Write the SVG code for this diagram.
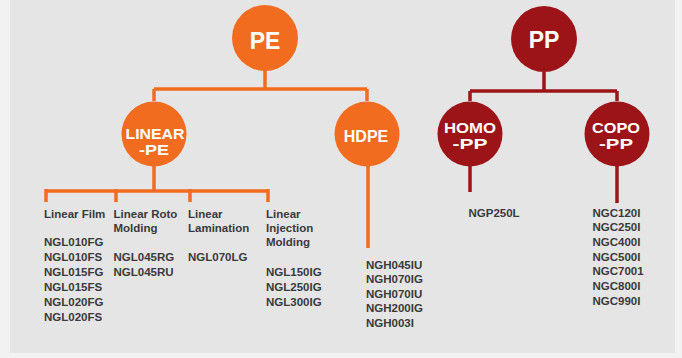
<svg xmlns="http://www.w3.org/2000/svg" width="682" height="358" viewBox="0 0 682 358">
<style>
.pe{fill:#f26c1f}
.pp{fill:#9c1418}
.lo{stroke:#f26c1f;fill:none;stroke-width:3.5}
.lr{stroke:#9c1418;fill:none;stroke-width:3.5}
.ct{font-family:"Liberation Sans",Arial,sans-serif;font-weight:bold;fill:#ffffff;text-anchor:middle}
.big{font-size:23px}
.mid{font-size:16px}
.two{font-size:14.5px}
.t{font-family:"Liberation Sans",Arial,sans-serif;font-weight:bold;font-size:11.5px;fill:#3a3a3a}
</style>
<rect x="0" y="0" width="682" height="358" fill="#f2f2f2"/>
<rect x="10" y="0" width="665" height="353" fill="#e5e5e5"/>
<g id="connectors">
<path class="lo" d="M265 70 V89 M154 89 H367 M154 89 V101 M367 89 V101"/>
<path class="lo" d="M154 166 V191 M46 191 H268 M46 189 V202 M116 189 V202 M190 189 V202 M268 189 V202"/>
<path class="lo" d="M368 166 V248"/>
<path class="lr" d="M544 72 V91 M470 91 H617 M470 91 V101 M617 91 V101"/>
<path class="lr" d="M470 166 V192"/>
<path class="lr" d="M617 166 V203"/>
</g>
<g id="node-pe"><circle class="pe" cx="265" cy="38" r="33"/><text class="ct big" x="265" y="49">PE</text></g>
<g id="node-pp"><circle class="pp" cx="544" cy="39" r="33"/><text class="ct big" x="544" y="48">PP</text></g>
<g id="node-linear-pe"><circle class="pe" cx="154" cy="134" r="32.5"/><text class="ct two" x="155" y="138.5" textLength="59" lengthAdjust="spacingAndGlyphs">LINEAR</text><text class="ct two" x="154" y="154.5" textLength="30" lengthAdjust="spacingAndGlyphs">-PE</text></g>
<g id="node-hdpe"><circle class="pe" cx="367" cy="134" r="32.5"/><text class="ct mid" x="366" y="142">HDPE</text></g>
<g id="node-homo-pp"><circle class="pp" cx="470" cy="134" r="32.5"/><text class="ct two" x="470" y="133" textLength="52" lengthAdjust="spacingAndGlyphs">HOMO</text><text class="ct two" x="470" y="149" textLength="35" lengthAdjust="spacingAndGlyphs">-PP</text></g>
<g id="node-copo-pp"><circle class="pp" cx="617" cy="134" r="32.5"/><text class="ct two" x="616" y="133" textLength="48" lengthAdjust="spacingAndGlyphs">COPO</text><text class="ct two" x="616" y="149" textLength="34" lengthAdjust="spacingAndGlyphs">-PP</text></g>
<g id="node-linear-film">
<text class="t" x="44" y="217.5">Linear Film</text>
<text class="t" x="44" y="246">NGL010FG</text>
<text class="t" x="44" y="261">NGL010FS</text>
<text class="t" x="44" y="276">NGL015FG</text>
<text class="t" x="44" y="291">NGL015FS</text>
<text class="t" x="44" y="306">NGL020FG</text>
<text class="t" x="44" y="321">NGL020FS</text>
</g>
<g id="node-linear-roto">
<text class="t" x="113.5" y="217.5">Linear Roto</text>
<text class="t" x="113.5" y="231.5">Molding</text>
<text class="t" x="113.5" y="261">NGL045RG</text>
<text class="t" x="113.5" y="276">NGL045RU</text>
</g>
<g id="node-linear-lamination">
<text class="t" x="188" y="217.5">Linear</text>
<text class="t" x="188" y="231.5">Lamination</text>
<text class="t" x="188" y="261">NGL070LG</text>
</g>
<g id="node-linear-injection">
<text class="t" x="266" y="217.5">Linear</text>
<text class="t" x="266" y="231.5">Injection</text>
<text class="t" x="266" y="245.5">Molding</text>
<text class="t" x="266" y="276">NGL150IG</text>
<text class="t" x="266" y="291">NGL250IG</text>
<text class="t" x="266" y="306">NGL300IG</text>
</g>
<g id="node-hdpe-grades">
<text class="t" x="366" y="268.5">NGH045IU</text>
<text class="t" x="366" y="283">NGH070IG</text>
<text class="t" x="366" y="297.5">NGH070IU</text>
<text class="t" x="366" y="312">NGH200IG</text>
<text class="t" x="366" y="326.5">NGH003I</text>
</g>
<g id="node-homo-grades">
<text class="t" x="468.5" y="216.5">NGP250L</text>
</g>
<g id="node-copo-grades">
<text class="t" x="592.5" y="216.5">NGC120I</text>
<text class="t" x="592.5" y="231.2">NGC250I</text>
<text class="t" x="592.5" y="245.9">NGC400I</text>
<text class="t" x="592.5" y="260.6">NGC500I</text>
<text class="t" x="592.5" y="275.3">NGC7001</text>
<text class="t" x="592.5" y="290">NGC800I</text>
<text class="t" x="592.5" y="304.7">NGC990I</text>
</g>
</svg>
